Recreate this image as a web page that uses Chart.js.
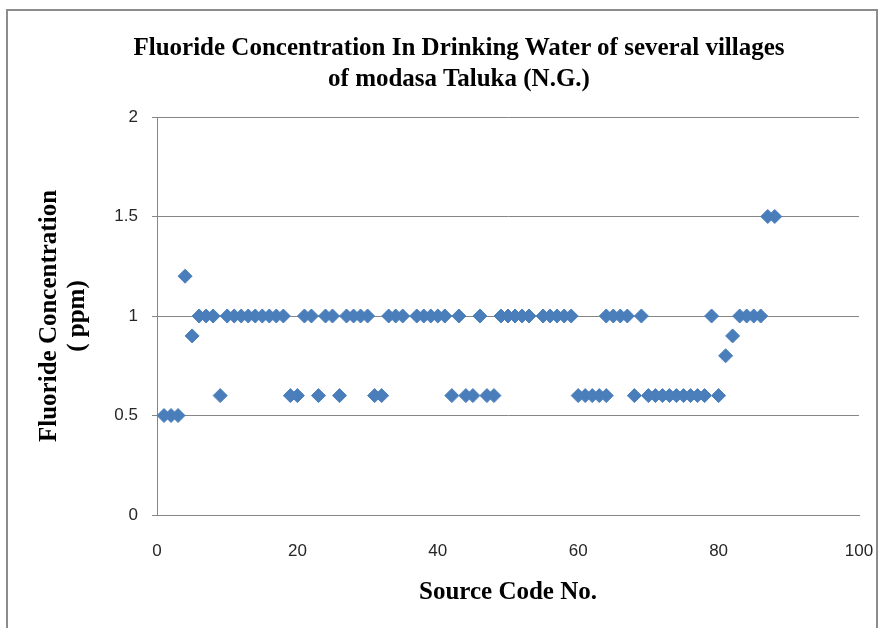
<!DOCTYPE html>
<html>
<head>
<meta charset="utf-8">
<script src="https://cdn.jsdelivr.net/npm/chart.js"></script>
<style>
  html, body { margin: 0; padding: 0; background: #fff; overflow: hidden; }
  #wrap { position: relative; width: 886px; height: 628px; }
  #frame { position: absolute; left: 6px; top: 9px; width: 872px; height: 660px; border: 2px solid #8c8c8c; box-sizing: border-box; }
  #title { position: absolute; left: 0; top: 31px; width: 918px; text-align: center;
    font: bold 25px/31px "Liberation Serif", serif; color: #000; }
  #chart { position: absolute; left: 0; top: 0; }
</style>
</head>
<body>
<div id="wrap">
  <div id="frame"></div>
  <canvas id="chart" width="886" height="628"></canvas>
  <div id="title">Fluoride Concentration In Drinking Water of several villages<br>of modasa Taluka (N.G.)</div>
</div>
<script>
// source code numbers and fluoride (ppm)
const sourceCode = [1, 2, 3, 4, 5, 6, 7, 8, 9, 10, 11, 12, 13, 14, 15, 16, 17, 18, 19, 20,
  21, 22, 23, 24, 25, 26, 27, 28, 29, 30, 31, 32, 33, 34, 35, 37, 38, 39, 40, 41,
  42, 43, 44, 45, 46, 47, 48, 49, 50, 51, 52, 53, 55, 56, 57, 58, 59, 60, 61, 62,
  63, 64, 64, 65, 66, 67, 68, 69, 70, 71, 72, 73, 74, 75, 76, 77, 78, 79, 80, 81,
  82, 83, 84, 85, 86, 87, 88];
const fluoride = [0.5, 0.5, 0.5, 1.2, 0.9, 1, 1, 1, 0.6, 1, 1, 1, 1, 1, 1, 1, 1, 1, 0.6, 0.6,
  1, 1, 0.6, 1, 1, 0.6, 1, 1, 1, 1, 0.6, 0.6, 1, 1, 1, 1, 1, 1, 1, 1,
  0.6, 1, 0.6, 0.6, 1, 0.6, 0.6, 1, 1, 1, 1, 1, 1, 1, 1, 1, 1, 0.6, 0.6, 0.6,
  0.6, 0.6, 1, 1, 1, 1, 0.6, 1, 0.6, 0.6, 0.6, 0.6, 0.6, 0.6, 0.6, 0.6, 0.6, 1, 0.6, 0.8,
  0.9, 1, 1, 1, 1, 1.5, 1.5];
const xTicks = [0, 20, 40, 60, 80, 100];
const yTicks = [0, 0.5, 1, 1.5, 2];

const points = sourceCode.map((x, i) => ({x: x, y: fluoride[i]}));
const gridColor = '#868686';
const tickFont = {family: '"Liberation Sans", Arial, sans-serif', size: 17};
const titleFont = {family: '"Liberation Serif", "Times New Roman", serif', size: 25, weight: 'bold'};

new Chart(document.getElementById('chart').getContext('2d'), {
  type: 'scatter',
  data: {
    datasets: [{
      label: 'Fluoride',
      data: points,
      pointStyle: 'rectRot',
      pointRadius: 7,
      pointHoverRadius: 7,
      backgroundColor: '#4a7ebb',
      borderColor: '#4a7ebb',
      borderWidth: 1
    }]
  },
  options: {
    responsive: false,
    animation: false,
    layout: {padding: {top: 117, left: 36, right: 27, bottom: 0}},
    plugins: {
      legend: {display: false},
      title: {display: false},
      tooltip: {enabled: false}
    },
    scales: {
      x: {
        type: 'linear',
        position: 'bottom',
        min: xTicks[0],
        max: xTicks[xTicks.length - 1],
        afterBuildTicks: (s) => { s.ticks = xTicks.map(v => ({value: v})); },
        afterFit: (s) => { s.height = 113; s.paddingLeft = 0; s.paddingRight = 0; },
        ticks: {padding: 18, font: tickFont, color: '#262626', callback: (v) => String(v)},
        grid: {display: false},
        border: {display: true, color: gridColor, width: 1},
        title: {display: true, text: 'Source Code No.', color: '#000',
          font: Object.assign({lineHeight: 1.2}, titleFont), padding: {top: 0, bottom: 20}}
      },
      y: {
        min: yTicks[0],
        max: yTicks[yTicks.length - 1],
        afterBuildTicks: (s) => { s.ticks = yTicks.map(v => ({value: v})); },
        afterFit: (s) => { s.width = 121; s.paddingTop = 0; s.paddingBottom = 0; },
        ticks: {padding: 14, font: tickFont, color: '#262626', callback: (v) => String(v)},
        grid: {color: gridColor, lineWidth: 1, drawTicks: true, tickLength: 5},
        border: {display: true, color: gridColor, width: 1},
        title: {display: true, text: ['Fluoride Concentration', '( ppm)'], color: '#000',
          font: Object.assign({lineHeight: 1.12}, titleFont), padding: {top: 0, bottom: 0}}
      }
    }
  }
});
</script>
</body>
</html>
